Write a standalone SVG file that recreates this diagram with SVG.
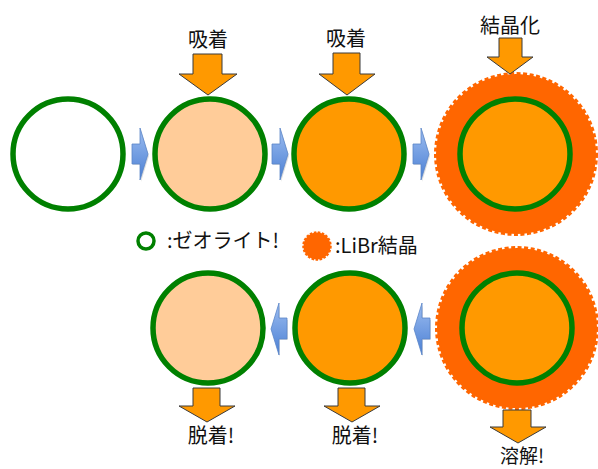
<svg xmlns="http://www.w3.org/2000/svg" width="598" height="469" viewBox="0 0 598 469">
<style>
.zeo{stroke:#008000;stroke-width:5.5}
.empty{fill:#ffffff}
.peach{fill:#FFCC99}
.orange{fill:#FF9900}
.shell{fill:#FF6600;stroke:#FF6600;stroke-width:4;stroke-dasharray:4 2.5}
.bigarrow{fill:#FF9900;stroke:#3a3a3a;stroke-width:1}
.blue{fill:url(#bg);stroke:#5a85c8;stroke-width:0.8}
.shadow{fill:#000;opacity:0.12}
text{font-family:"Noto Sans CJK JP","Noto Sans",sans-serif;fill:#111}
.lbl{font-size:20px;text-anchor:middle}
.leg{font-size:20px}
</style>
<defs>
<linearGradient id="bg" x1="0" y1="0" x2="0" y2="1">
<stop offset="0" stop-color="#9dbdf0"/>
<stop offset="1" stop-color="#4a7fd4"/>
</linearGradient>
</defs>

<g id="connectors">
<g id="blue-r1">
<path class="shadow" d="M133,145 H141 V130 L149,156 L141,182 V165 H133 Z"/>
<path class="blue" d="M132,144 H140 V128 L148,154 L140,180 V164 H132 Z"/>
</g>
<g id="blue-r2">
<path class="shadow" d="M273,145 H281 V130 L289,156 L281,182 V165 H273 Z"/>
<path class="blue" d="M272,144 H280 V128 L288,154 L280,180 V164 H272 Z"/>
</g>
<g id="blue-r3">
<path class="shadow" d="M414,145 H422 V130 L430,156 L422,182 V165 H414 Z"/>
<path class="blue" d="M413,144 H421 V128 L429,154 L421,180 V164 H413 Z"/>
</g>
<g id="blue-l1">
<path class="shadow" d="M288,320 H280 V305 L272,331 L280,357 V340 H288 Z"/>
<path class="blue" d="M287,318 H279 V303 L271,329 L279,355 V339 H287 Z"/>
</g>
<g id="blue-l2">
<path class="shadow" d="M431,320 H423 V305 L415,331 L423,357 V340 H431 Z"/>
<path class="blue" d="M430,318 H422 V303 L414,329 L422,355 V339 H430 Z"/>
</g>
</g>

<g id="node-top1">
<circle class="zeo empty" cx="68" cy="154" r="55"/>
</g>
<g id="node-top2">
<circle class="zeo peach" cx="210" cy="154" r="55"/>
</g>
<g id="node-top3">
<circle class="zeo orange" cx="349" cy="154" r="55"/>
</g>
<g id="node-top4">
<circle class="shell" cx="516" cy="154" r="80"/>
<circle class="zeo orange" cx="515" cy="154" r="55"/>
</g>

<g id="node-bot1">
<circle class="zeo peach" cx="208" cy="328" r="55"/>
</g>
<g id="node-bot2">
<circle class="zeo orange" cx="350" cy="328" r="55"/>
</g>
<g id="node-bot3">
<circle class="shell" cx="517" cy="328" r="80"/>
<circle class="zeo orange" cx="517" cy="328" r="55"/>
</g>

<g id="arrow-adsorb1">
<path class="bigarrow" d="M193,54 H222 V74 H237 L208,95 L179,74 H193 Z"/>
<text class="lbl" x="208" y="47">吸着</text>
</g>
<g id="arrow-adsorb2">
<path class="bigarrow" d="M333,53 H360 V74 H375 L347,95 L319,74 H333 Z"/>
<text class="lbl" x="346" y="46">吸着</text>
</g>
<g id="arrow-cryst">
<path class="bigarrow" d="M499,38 H522 V57 H533 L510,74 L487,57 H499 Z"/>
<text class="lbl" x="510" y="33">結晶化</text>
</g>

<g id="arrow-desorb1">
<path class="bigarrow" d="M193,388 H220 V406 H235 L207,422 L179,406 H193 Z"/>
<text class="lbl" x="211" y="443">脱着!</text>
</g>
<g id="arrow-desorb2">
<path class="bigarrow" d="M338,388 H365 V406 H380 L352,422 L324,406 H338 Z"/>
<text class="lbl" x="355" y="443">脱着!</text>
</g>
<g id="arrow-dissolve">
<path class="bigarrow" d="M503,410 H531 V427 H546 L518,443 L490,427 H503 Z"/>
<text class="lbl" x="522" y="463" style="font-size:19px">溶解!</text>
</g>

<g id="legend-zeolite">
<circle cx="146" cy="241" r="8" fill="#ffffff" stroke="#008000" stroke-width="3.5"/>
<text class="leg" x="167" y="248">:ゼオライト!</text>
</g>
<g id="legend-libr">
<circle cx="317" cy="246" r="13.5" fill="#FF6600" stroke="#FF6600" stroke-width="2.5" stroke-dasharray="2.5 1.5"/>
<text class="leg" x="335" y="253">:LiBr結晶</text>
</g>
</svg>
